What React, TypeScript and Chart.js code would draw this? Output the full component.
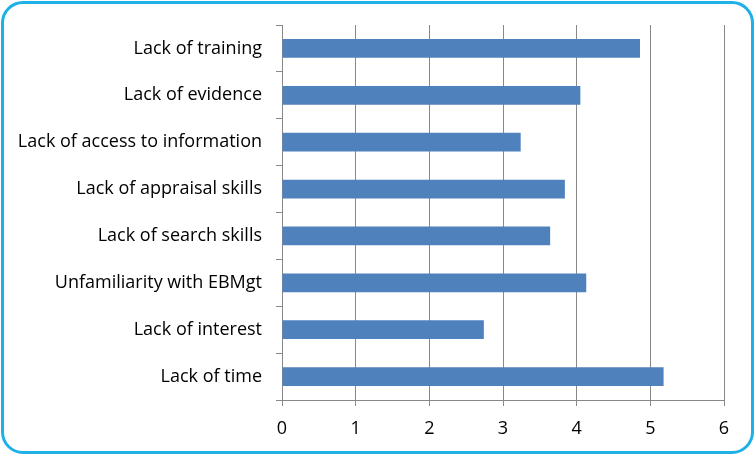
import React, { useEffect, useRef } from "react";
import { Chart, registerables } from "chart.js";

Chart.register(...registerables);

const categories = [
  "Lack of training",
  "Lack of evidence",
  "Lack of access to information",
  "Lack of appraisal skills",
  "Lack of search skills",
  "Unfamiliarity with EBMgt",
  "Lack of interest",
  "Lack of time",
];
const values = [4.86, 4.05, 3.24, 3.84, 3.64, 4.13, 2.74, 5.18];
const xMin = 0;
const xMax = 6;

export default function App() {
  const ref = useRef<HTMLCanvasElement | null>(null);
  useEffect(() => {
    document.body.style.margin = "0";
    const font = { family: "'Open Sans', 'Noto Sans', sans-serif", size: 18 };
    const chart = new Chart(ref.current!, {
      type: "bar",
      data: {
        labels: categories,
        datasets: [
          {
            data: values,
            backgroundColor: "#4F81BD",
            barPercentage: 0.4,
            categoryPercentage: 1,
          },
        ],
      },
      options: {
        indexAxis: "y",
        animation: false,
        responsive: false,
        layout: { padding: { top: 25, right: 31, left: 0, bottom: 0 } },
        plugins: { legend: { display: false }, tooltip: { enabled: false } },
        scales: {
          x: {
            min: xMin,
            max: xMax,
            ticks: { stepSize: 1, color: "#000", font, padding: 12 },
            grid: { color: "#888", tickLength: 6, lineWidth: 1 },
            border: { color: "#888" },
            afterFit: (s: any) => {
              s.height = 55;
            },
          },
          y: {
            ticks: { color: "#000", font, padding: 14 },
            grid: { offset: true, drawOnChartArea: false, color: "#888", tickLength: 6 },
            border: { color: "#888" },
            afterFit: (s: any) => {
              s.width = 282;
            },
          },
        },
      },
    });
    return () => chart.destroy();
  }, []);
  return (
    <div style={{ position: "relative", width: 755, height: 455, background: "#fff" }}>
      <canvas ref={ref} width={755} height={455} style={{ position: "absolute", left: 0, top: 0 }} />
      <div
        style={{
          position: "absolute",
          left: 1,
          top: 1,
          width: 747,
          height: 447,
          border: "3px solid #1FB0E6",
          borderRadius: 22,
          pointerEvents: "none",
        }}
      />
    </div>
  );
}
